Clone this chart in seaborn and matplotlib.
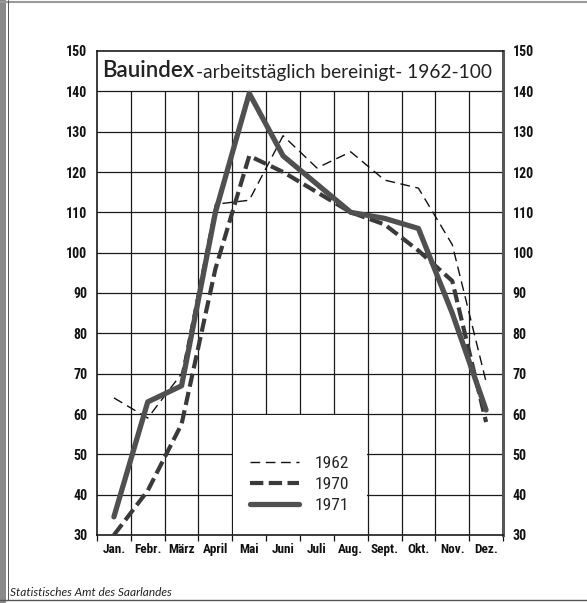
import matplotlib
matplotlib.use("Agg")
import matplotlib.pyplot as plt
from matplotlib import font_manager
from matplotlib.patches import Rectangle
from matplotlib.lines import Line2D
import seaborn as sns
import pandas as pd
import numpy as np

# ---- data ----
months = ["Jan.", "Febr.", "März", "April", "Mai", "Juni", "Juli", "Aug.", "Sept.", "Okt.", "Nov.", "Dez."]
idx_1962 = [64, 59, 70, 112, 113, 129, 121, 125, 118, 116, 102, 68]
idx_1970 = [30, 41, 57.5, 96, 124, 120, 115, 110, 107, 100.5, 93, 58]
idx_1971 = [34.5, 63, 67, 110, 139.5, 124, 117, 110, 108.5, 106, 85, 61]
series_names = ["1962", "1970", "1971"]
y_ticks = [30, 40, 50, 60, 70, 80, 90, 100, 110, 120, 130, 140, 150]

sns.set_theme(style="white")

available = {f.name for f in font_manager.fontManager.ttflist}
narrow = None
for cand in ["Liberation Sans Narrow", "DejaVu Sans Condensed", "Roboto Condensed", "Open Sans Condensed"]:
    if cand in available:
        narrow = cand
        break
plt.rcParams['font.family'] = ['Lato', 'DejaVu Sans']
tick_family = [narrow, 'DejaVu Sans'] if narrow else ['DejaVu Sans']

x = np.arange(len(months))
df = pd.DataFrame({"pos": x, "1962": idx_1962, "1970": idx_1970, "1971": idx_1971})

fig = plt.figure(figsize=(5.87, 6.03), dpi=100)
ax = fig.add_axes([97/587, 1 - 535/603, 406/587, 484/603])
ax.set_xlim(-0.5, 11.5)
ax.set_ylim(30, 150)

# grid (manual so the title band and legend box stay clear)
grid_kw = dict(color="#1a1a1a", lw=0.9, zorder=1)
for v in range(40, 150, 10):
    ax.axhline(v, **grid_kw)
for b in np.arange(0.5, 11.5, 1.0):
    ax.vlines(b, 30, 140, **grid_kw)
# white legend box blanking grid
ax.add_patch(Rectangle((3.53, 30), 3.94, 29.8, facecolor="white", edgecolor="none", zorder=1.5))

# lines
sns.lineplot(data=df, x="pos", y="1962", ax=ax, color="#111111", lw=1.0,
             linestyle=(0, (7, 4)), zorder=3, label="1962")
sns.lineplot(data=df, x="pos", y="1970", ax=ax, color="#3a3a3a", lw=3.0,
             linestyle=(0, (3.2, 1.3)), zorder=4, label="1970")
sns.lineplot(data=df, x="pos", y="1971", ax=ax, color="#505050", lw=3.8,
             linestyle="-", zorder=5, label="1971")

leg = ax.legend(loc="upper left", bbox_to_anchor=(0.378, 0.163), frameon=False,
                fontsize=12.5, handlelength=2.8, handletextpad=0.9, labelspacing=0.33,
                borderpad=0, borderaxespad=0)
for t in leg.get_texts():
    t.set_family(tick_family)

# title band
ax.text(-0.35, 145.2, "Bauindex", fontsize=16, fontweight="semibold", va="center", ha="left",
        color="#222222", zorder=6)
ax.text(2.42, 144.6, "-arbeitstäglich bereinigt- 1962-100", fontsize=13.8, va="center",
        ha="left", color="#222222", zorder=6)

# axes / ticks
ax.set_xticks(x)
ax.set_xticklabels(months)
ax.set_xticks(np.arange(-0.5, 12.0, 1.0), minor=True)
ax.set_yticks(y_ticks)
ax.set_yticklabels([str(v) for v in y_ticks])
ax.tick_params(axis="x", which="major", length=0, pad=6, labelsize=9.5, colors="#111111")
ax.tick_params(axis="x", which="minor", length=4, width=0.9, direction="out", color="#111111", bottom=True)
ax.tick_params(axis="y", which="major", length=0, pad=7, labelsize=10, left=True, right=True,
               labelleft=True, labelright=True, colors="#111111")
for lab in ax.get_xticklabels() + ax.get_yticklabels():
    lab.set_family(tick_family)
    lab.set_fontweight("bold")
ax.set_xlabel("")
ax.set_ylabel("")

for side in ["left", "top", "bottom"]:
    ax.spines[side].set_color("#1a1a1a")
    ax.spines[side].set_linewidth(1.2)
ax.spines["right"].set_color("#555555")
ax.spines["right"].set_linewidth(2.2)

# scan-like page frame and footer
fig.patches.append(Rectangle((0, 0), 6/587, 1, transform=fig.transFigure, facecolor="#8a8a8a",
                             edgecolor="none"))
fig.lines.append(Line2D([0, 1], [1 - 2/603, 1 - 2/603], transform=fig.transFigure, color="#999999", lw=1.5))
fig.lines.append(Line2D([0, 1], [3/603, 3/603], transform=fig.transFigure, color="#555555", lw=1.0))
fig.lines.append(Line2D([8/587, 8/587], [3/603, 1], transform=fig.transFigure, color="#555555", lw=0.7))
fig.text(10/587, 1 - 592/603, "Statistisches Amt des Saarlandes", fontsize=8.6, style="italic",
         va="center", ha="left", color="#222222")

fig.savefig("out.png", dpi=100)
